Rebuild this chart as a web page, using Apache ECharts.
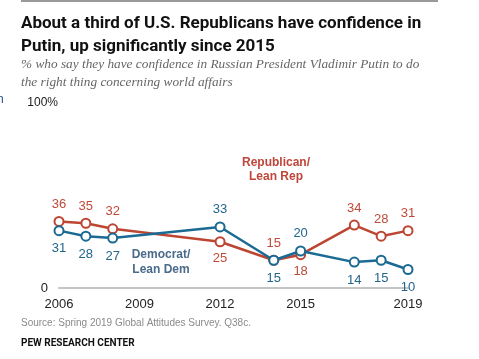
<!DOCTYPE html>
<html><head><meta charset="utf-8">
<script src="https://cdn.jsdelivr.net/npm/echarts@6/dist/echarts.min.js"></script>
<style>html,body{margin:0;padding:0;background:#fff}#c{width:479px;height:359px}</style>
</head><body><div id="c"></div>
<script>
const years = [2006, 2007, 2008, 2012, 2014, 2015, 2017, 2018, 2019];
const repValues = [36, 35, 32, 25, 15, 18, 34, 28, 31];
const demValues = [31, 28, 27, 33, 15, 20, 14, 15, 10];
const xTickLabels = [2006, 2009, 2012, 2015, 2019];
const yTickLabels = {0: '0', 100: '100%'};
const repLabelPos = ['top','top','top','bottom','top','bottom','top','top','top'];
const demLabelPos = ['bottom','bottom','bottom','top','bottom','top','bottom','bottom','bottom'];

const RED = '#bd4632', BLUE = '#1a6a93';
function mk(vals, pos){
  return years.map((y,i)=>({value:[y, vals[i]], label:{position:pos[i]}}));
}
const chart = echarts.init(document.getElementById('c'));
chart.setOption({
  animation:false,
  textStyle:{fontFamily:'Liberation Sans, Arial, sans-serif'},
  grid:{left:59, right:71, top:103, bottom:71},
  xAxis:{type:'value', min:2006, max:2019, interval:1,
    axisLine:{show:true, lineStyle:{color:'#c4c4c4', width:2}},
    axisTick:{show:false}, splitLine:{show:false},
    axisLabel:{color:'#222', fontSize:13, margin:10,
      formatter:v=> xTickLabels.includes(v) ? String(v) : ''}},
  yAxis:{type:'value', min:0, max:100, interval:100,
    axisLine:{show:false}, axisTick:{show:false}, splitLine:{show:false},
    axisLabel:{fontSize:12, color:'#222', margin:1,
      formatter:v=> v===0 ? '{z|'+yTickLabels[0]+'}' : '{h|'+yTickLabels[100]+'}',
      rich:{z:{fontSize:13, padding:[0,10,0,0], color:'#222'}, h:{fontSize:12, color:'#222'}}}},
  series:[
    {type:'line', data:mk(repValues, repLabelPos), symbol:'circle', symbolSize:9,
      lineStyle:{color:RED, width:2.5}, itemStyle:{color:'#fff', borderColor:RED, borderWidth:2},
      label:{show:true, fontSize:13, color:'#c04a3a', distance:5, formatter:p=>p.value[1]}, z:2},
    {type:'line', data:mk(demValues, demLabelPos), symbol:'circle', symbolSize:9,
      lineStyle:{color:BLUE, width:2.5}, itemStyle:{color:'#fff', borderColor:BLUE, borderWidth:2},
      label:{show:true, fontSize:13, color:'#22668c', distance:6, formatter:p=>p.value[1]}, z:3}
  ],
  graphic:[
    {type:'rect', shape:{x:21, y:0, width:417, height:2}, style:{fill:'#9a9a9a'}},
    {type:'text', left:21, top:12, style:{text:'About a third of U.S. Republicans have confidence in\nPutin, up significantly since 2015',
      font:'bold 17px Roboto, Liberation Sans, Arial, sans-serif', fill:'#111', lineHeight:23}},
    {type:'text', left:21, top:56, style:{text:'% who say they have confidence in Russian President Vladimir Putin to do\nthe right thing concerning world affairs',
      font:'italic 13.3px Liberation Serif, Georgia, serif', fill:'#666', lineHeight:18}},
    {type:'text', left:-3, top:94, style:{text:'n', font:'12px Liberation Sans', fill:'#1b4f8a'}},
    {type:'text', x:276, y:170, style:{text:'Republican/\nLean Rep', font:'bold 12px Liberation Sans, Arial, sans-serif',
      fill:'#c0453a', align:'center', verticalAlign:'middle', lineHeight:14}},
    {type:'text', x:161, y:262, style:{text:'Democrat/\nLean Dem', font:'bold 12px Liberation Sans, Arial, sans-serif',
      fill:'#4a6b8a', align:'center', verticalAlign:'middle', lineHeight:15}},
    {type:'text', left:21, top:318, style:{text:'Source: Spring 2019 Global Attitudes Survey. Q38c.',
      font:'10px Liberation Sans, Arial, sans-serif', fill:'#8a8a8a'}},
    {type:'text', left:21, top:338, style:{text:'PEW RESEARCH CENTER',
      font:'bold 10px Roboto, Liberation Sans, Arial, sans-serif', fill:'#111'}}
  ]
});
</script></body></html>
